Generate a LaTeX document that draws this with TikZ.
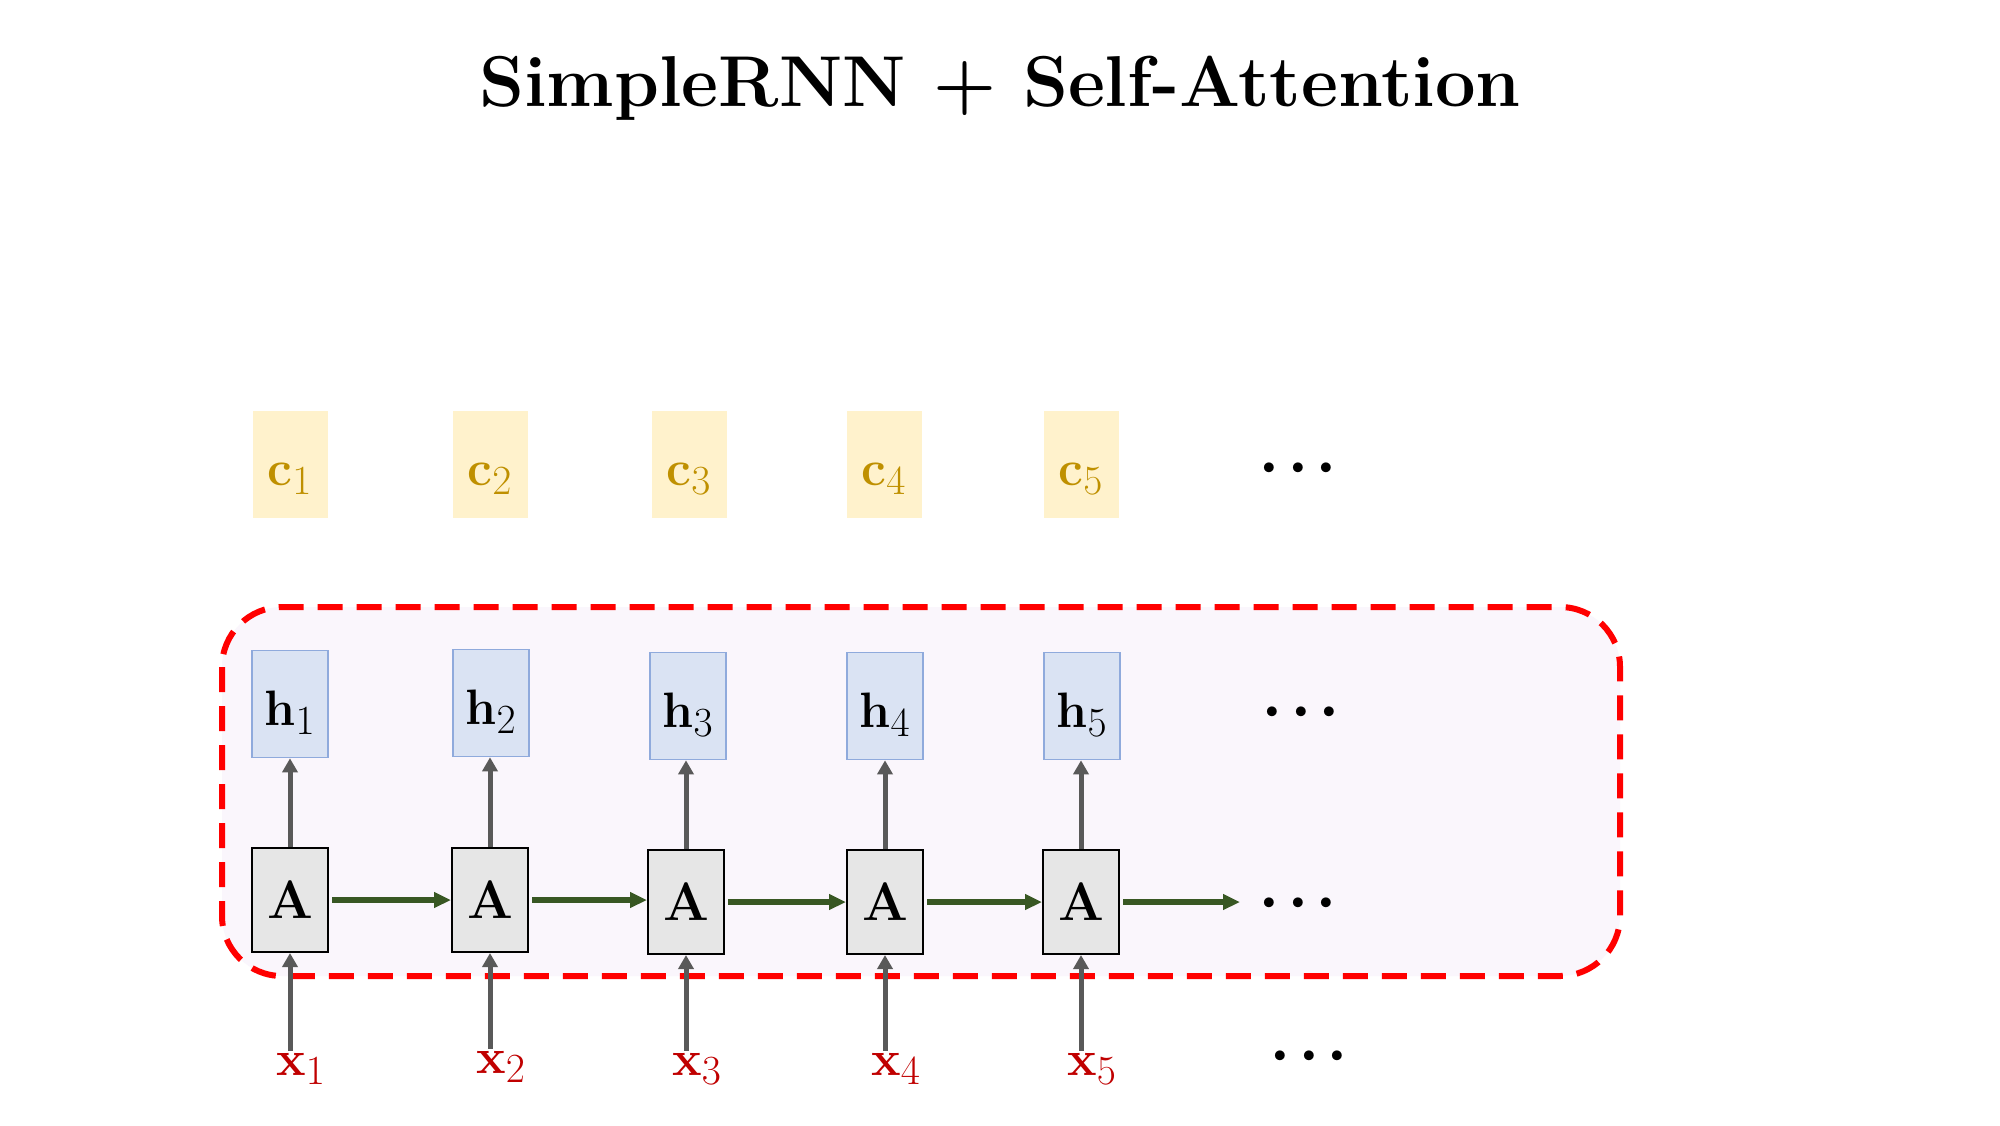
\documentclass[tikz,border=0pt]{standalone}
\usetikzlibrary{arrows.meta}
\definecolor{cfill}{HTML}{FFF2CC}
\definecolor{cgold}{HTML}{BF9000}
\definecolor{hfill}{HTML}{DAE3F3}
\definecolor{hborder}{HTML}{8FAADC}
\definecolor{afill}{HTML}{E6E6E6}
\definecolor{garr}{HTML}{595959}
\definecolor{darkgr}{HTML}{385723}
\definecolor{xred}{HTML}{C00000}
\definecolor{boxfill}{HTML}{FAF6FC}
\definecolor{dashred}{HTML}{FF0000}
\tikzset{
  cbox/.style={fill=cfill, minimum width=37.5pt, minimum height=53.5pt, inner sep=0pt, text height=21pt, text depth=0pt, text=cgold, font=\fontsize{32}{36}\selectfont},
  hbox/.style={fill=hfill, draw=hborder, line width=0.8pt, minimum width=38pt, minimum height=53.5pt, inner sep=0pt, text height=21pt, text depth=0pt, font=\fontsize{31}{36}\selectfont},
  abox/.style={fill=afill, draw=black, line width=1pt, minimum width=38pt, minimum height=52pt, inner sep=0pt, font=\fontsize{27}{32}\selectfont\bfseries},
  xlab/.style={text=xred, inner sep=1pt, font=\fontsize{31}{36}\selectfont},
  dots/.style={inner sep=0pt, text height=11pt, text depth=0pt, font=\fontsize{22}{22}\selectfont},
  garrow/.style={draw=garr, line width=2.5pt, -{Triangle[length=7pt,width=7.5pt]}},
  grarrow/.style={draw=darkgr, line width=2.6pt, -{Triangle[length=8.5pt,width=7.5pt]}, shorten <=1.5pt},
  attbox/.style={draw=dashred, fill=boxfill, line width=3pt, dash pattern=on 12.5pt off 7pt, rounded corners=30pt}
}
\newcommand{\threedots}{\textbullet\hspace{-1.5pt}\textbullet\hspace{-1.5pt}\textbullet}
\begin{document}
\begin{tikzpicture}[x=0.5pt,y=-0.5pt]
\fill[white] (0,0) rectangle (2000,1125);
\useasboundingbox (0,0) rectangle (2000,1125);

\node[anchor=base, inner sep=0pt, font=\fontsize{36}{40}\selectfont\bfseries] (title) at (1000,106) {SimpleRNN + Self-Attention};

\draw[attbox] (222,607) rectangle (1620,976);

% c boxes
\node[cbox] (c1) at (290,464) {$\mathbf{c}_1$};
\node[cbox] (c2) at (490,464) {$\mathbf{c}_2$};
\node[cbox] (c3) at (689,464) {$\mathbf{c}_3$};
\node[cbox] (c4) at (884,464) {$\mathbf{c}_4$};
\node[cbox] (c5) at (1081,464) {$\mathbf{c}_5$};

% h boxes
\node[hbox] (h1) at (290,704) {$\mathbf{h}_1$};
\node[hbox] (h2) at (491,703) {$\mathbf{h}_2$};
\node[hbox] (h3) at (688,706) {$\mathbf{h}_3$};
\node[hbox] (h4) at (885,706) {$\mathbf{h}_4$};
\node[hbox] (h5) at (1082,706) {$\mathbf{h}_5$};

% A boxes
\node[abox] (A1) at (290,900) {A};
\node[abox] (A2) at (490,900) {A};
\node[abox] (A3) at (686,902) {A};
\node[abox] (A4) at (885,902) {A};
\node[abox] (A5) at (1081,902) {A};

% x labels
\node[xlab] (x1) at (301,1069) {$\mathbf{x}_1$};
\node[xlab] (x2) at (501,1067) {$\mathbf{x}_2$};
\node[xlab] (x3) at (697,1069) {$\mathbf{x}_3$};
\node[xlab] (x4) at (896,1069) {$\mathbf{x}_4$};
\node[xlab] (x5) at (1092,1069) {$\mathbf{x}_5$};

% dots
\node[dots] (d1) at (1298,468) {\threedots};
\node[dots] (d2) at (1301,712) {\threedots};
\node[dots] (d3) at (1298,903) {\threedots};
\node[dots] (d4) at (1309,1056) {\threedots};
\coordinate (aend) at (1240,902);

% arrows A -> h and x -> A
\foreach \i in {1,...,5}{
  \draw[garrow] (A\i.north) -- (A\i.north |- h\i.south);
  \draw[garrow] (A\i.south |- x\i.north) -- (A\i.south);
}
% recurrent arrows
\draw[grarrow] (A1.east) -- (A2.west);
\draw[grarrow] (A2.east) -- (A3.west |- A2.east);
\draw[grarrow] (A3.east) -- (A4.west);
\draw[grarrow] (A4.east) -- (A5.west);
\draw[grarrow] (A5.east) -- (aend);
\end{tikzpicture}
\end{document}
